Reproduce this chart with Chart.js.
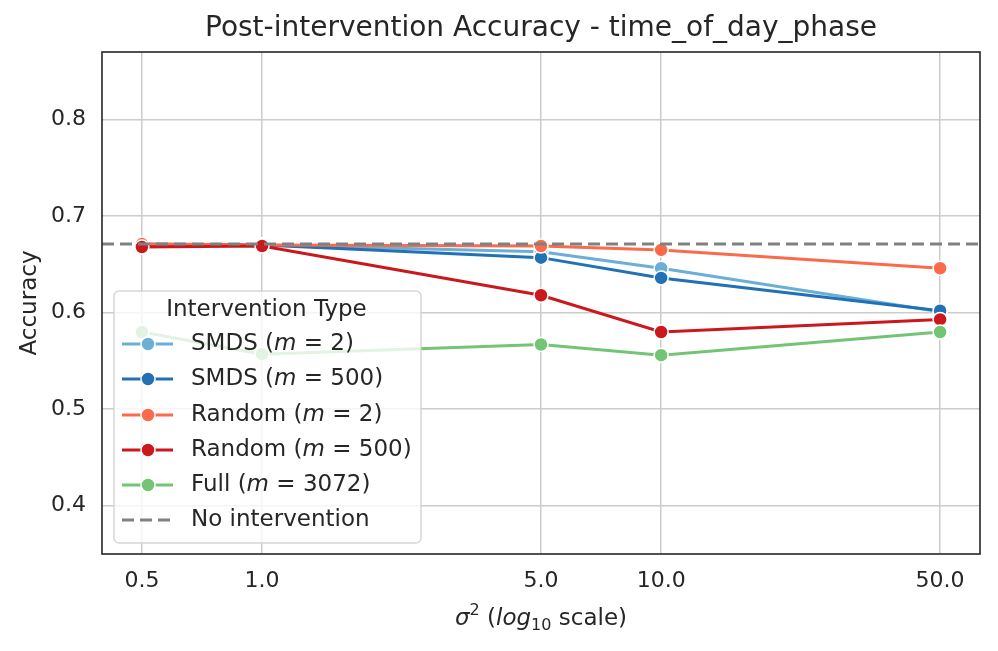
<!DOCTYPE html>
<html>
<head>
<meta charset="utf-8">
<script src="https://cdn.jsdelivr.net/npm/chart.js@4.4.1/dist/chart.umd.min.js"></script>
<style>
  body { margin: 0; background: #fff; }
  #wrap { width: 998px; height: 651px; }
</style>
</head>
<body>
<div id="wrap"><canvas id="accChart" width="998" height="651"></canvas></div>
<script>
// values
const sigma = [0.5, 1.0, 5.0, 10.0, 50.0];
const xTicks = [0.5, 1.0, 5.0, 10.0, 50.0];
const yTicks = [0.4, 0.5, 0.6, 0.7, 0.8];

const smds2 = [0.671, 0.670, 0.663, 0.646, 0.601];
const smds500 = [0.670, 0.670, 0.657, 0.636, 0.602];
const random2 = [0.671, 0.670, 0.669, 0.665, 0.646];
const random500 = [0.668, 0.669, 0.618, 0.580, 0.593];
const full3072 = [0.580, 0.557, 0.567, 0.556, 0.580];
const noIntervention = 0.671;

const seriesNames = ['SMDS', 'SMDS', 'Random', 'Random', 'Full'];
const seriesM = ['2', '500', '2', '500', '3072'];
const seriesColors = ['#6baed6', '#2171b5', '#fb6a4a', '#cb181d', '#74c476'];
const seriesValues = [smds2, smds500, random2, random500, full3072];

const xMin = 0.5 / Math.pow(10, 0.1);
const xMax = 50 * Math.pow(10, 0.1);
const textColor = '#262626';
const FONT = '"DejaVu Sans", sans-serif';

function toPoints(vals) {
    return vals.map((v, i) => ({ x: sigma[i], y: v }));
}

const datasets = seriesValues.map((vals, i) => ({
    label: seriesNames[i] + ' (m = ' + seriesM[i] + ')',
    data: toPoints(vals),
    borderColor: seriesColors[i],
    backgroundColor: seriesColors[i],
    borderWidth: 3,
    pointRadius: 7,
    pointBorderColor: '#ffffff',
    pointBorderWidth: 1.5,
    pointBackgroundColor: seriesColors[i],
    order: 10 - i
}));

datasets.push({
    label: 'No intervention',
    data: [{ x: xMin, y: noIntervention }, { x: xMax, y: noIntervention }],
    borderColor: '#808080',
    borderWidth: 3,
    borderDash: [12, 6],
    pointRadius: 0,
    order: 0
});

// text pieces with italic / sub / sup parts
function drawRuns(ctx, runs, x, y, align) {
    let total = 0;
    runs.forEach(r => {
        ctx.font = (r.italic ? 'italic ' : '') + r.size + 'px ' + FONT;
        r.w = ctx.measureText(r.t).width;
        total += r.w;
    });
    let cx = align === 'center' ? x - total / 2 : x;
    runs.forEach(r => {
        ctx.font = (r.italic ? 'italic ' : '') + r.size + 'px ' + FONT;
        ctx.fillText(r.t, cx, y + (r.dy || 0));
        cx += r.w;
    });
}

const decorPlugin = {
    id: 'decor',
    afterDraw(chart) {
        const ctx = chart.ctx;
        const area = chart.chartArea;
        ctx.save();
        ctx.fillStyle = textColor;
        ctx.textBaseline = 'middle';
        ctx.textAlign = 'left';
        // title
        drawRuns(ctx, [{ t: 'Post-intervention Accuracy - time_of_day_phase', size: 28 }],
            (area.left + area.right) / 2, 29, 'center');
        // x title
        ctx.textBaseline = 'alphabetic';
        drawRuns(ctx, [
            { t: 'σ', size: 23, italic: true },
            { t: '2', size: 16, dy: -10 },
            { t: ' (', size: 23 },
            { t: 'log', size: 23, italic: true },
            { t: '10', size: 16, dy: 5 },
            { t: ' scale)', size: 23 }
        ], (area.left + area.right) / 2, 625, 'center');
        // y title
        ctx.translate(30, (area.top + area.bottom) / 2);
        ctx.rotate(-Math.PI / 2);
        ctx.textBaseline = 'middle';
        drawRuns(ctx, [{ t: 'Accuracy', size: 23 }], 0, 0, 'center');
        ctx.restore();

        // frame
        ctx.save();
        ctx.strokeStyle = '#262626';
        ctx.lineWidth = 1.6;
        ctx.strokeRect(area.left, area.top, area.right - area.left, area.bottom - area.top);
        ctx.restore();
    },
    afterDatasetsDraw(chart) {
        const ctx = chart.ctx;
        const bx = 114, by = 291, bw = 307, bh = 252;
        ctx.save();
        ctx.beginPath();
        ctx.roundRect(bx, by, bw, bh, 5);
        ctx.fillStyle = 'rgba(255,255,255,0.8)';
        ctx.fill();
        ctx.strokeStyle = 'rgba(204,204,204,0.8)';
        ctx.lineWidth = 1.5;
        ctx.stroke();

        ctx.fillStyle = textColor;
        ctx.textBaseline = 'middle';
        drawRuns(ctx, [{ t: 'Intervention Type', size: 23 }], bx + bw / 2 - 1, 310, 'center');

        const rowY = [344, 379, 415, 450, 485, 520];
        seriesColors.forEach((c, i) => {
            const y = rowY[i];
            ctx.strokeStyle = c;
            ctx.lineWidth = 3;
            ctx.setLineDash([]);
            ctx.beginPath();
            ctx.moveTo(122, y);
            ctx.lineTo(173, y);
            ctx.stroke();
            ctx.beginPath();
            ctx.arc(148, y, 7, 0, Math.PI * 2);
            ctx.fillStyle = c;
            ctx.fill();
            ctx.strokeStyle = '#ffffff';
            ctx.lineWidth = 1.5;
            ctx.stroke();
            ctx.fillStyle = textColor;
            drawRuns(ctx, [
                { t: seriesNames[i] + ' (', size: 23 },
                { t: 'm', size: 23, italic: true },
                { t: ' = ' + seriesM[i] + ')', size: 23 }
            ], 191, y, 'left');
        });
        const y = rowY[5];
        ctx.strokeStyle = '#808080';
        ctx.lineWidth = 3;
        ctx.setLineDash([12, 6]);
        ctx.beginPath();
        ctx.moveTo(122, y);
        ctx.lineTo(173, y);
        ctx.stroke();
        ctx.setLineDash([]);
        ctx.fillStyle = textColor;
        drawRuns(ctx, [{ t: 'No intervention', size: 23 }], 191, y, 'left');
        ctx.restore();
    }
};

new Chart(document.getElementById('accChart').getContext('2d'), {
    type: 'line',
    data: { datasets: datasets },
    plugins: [decorPlugin],
    options: {
        responsive: false,
        animation: false,
        layout: { padding: { left: 0, right: 18, top: 52, bottom: 0 } },
        plugins: {
            legend: { display: false },
            tooltip: { enabled: false },
            title: { display: false }
        },
        scales: {
            x: {
                type: 'logarithmic',
                min: xMin,
                max: xMax,
                afterBuildTicks: (scale) => { scale.ticks = xTicks.map(v => ({ value: v })); },
                afterFit: (scale) => { scale.height = 97; },
                ticks: {
                    callback: (v) => Number(v).toFixed(1),
                    color: textColor,
                    font: { family: FONT, size: 22 },
                    padding: 14,
                    maxRotation: 0,
                    autoSkip: false
                },
                grid: { color: '#cccccc', lineWidth: 1.5, drawTicks: false },
                border: { display: false }
            },
            y: {
                type: 'linear',
                min: 0.35,
                max: 0.87,
                afterBuildTicks: (scale) => { scale.ticks = yTicks.map(v => ({ value: v })); },
                afterFit: (scale) => { scale.width = 102; },
                ticks: {
                    callback: (v) => Number(v).toFixed(1),
                    color: textColor,
                    font: { family: FONT, size: 22 },
                    padding: 16
                },
                grid: { color: '#cccccc', lineWidth: 1.5, drawTicks: false },
                border: { display: false }
            }
        }
    }
});
</script>
</body>
</html>
